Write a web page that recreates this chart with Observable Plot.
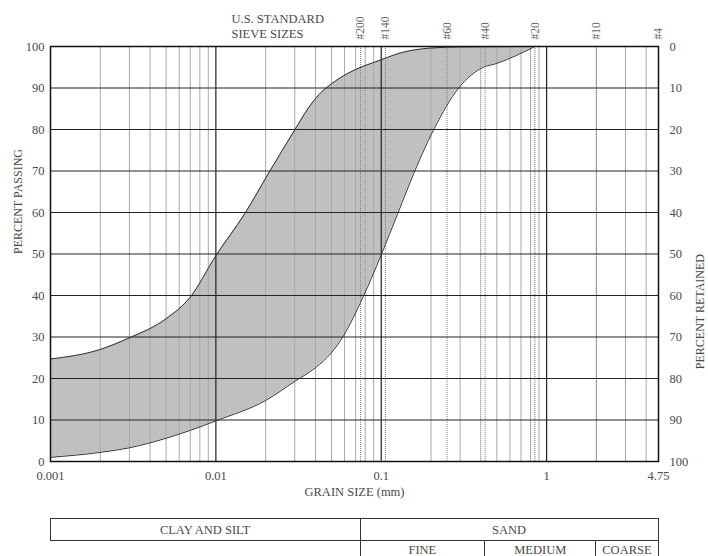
<!DOCTYPE html>
<html><head><meta charset="utf-8">
<script src="https://cdn.jsdelivr.net/npm/d3@7"></script>
<script src="https://cdn.jsdelivr.net/npm/@observablehq/plot@0.6"></script>
<style>
body{margin:0;background:#fff;}
</style></head><body><div id="chart"></div>
<script>
// ---- data ----
const sieveLabels = ["#200", "#140", "#60", "#40", "#20", "#10", "#4"];
const sieveSizes = [0.075, 0.106, 0.25, 0.425, 0.85, 2.0, 4.75];
const xTicks = [0.001, 0.01, 0.1, 1, 4.75];
const xTickLabels = ["0.001", "0.01", "0.1", "1", "4.75"];
const majorLines = [0.01, 0.1, 1];
const yTicks = [0, 10, 20, 30, 40, 50, 60, 70, 80, 90, 100];
const yGrid = [10, 20, 30, 40, 50, 60, 70, 80, 90];

const upperSize = [0.001, 0.002, 0.003, 0.005, 0.007, 0.01, 0.015, 0.021, 0.03, 0.036, 0.042, 0.05, 0.062, 0.1, 0.135, 0.195, 0.3, 0.85];
const upperPassing = [24.7, 27, 29.8, 34.4, 39.6, 49.6, 59.8, 69.7, 79.9, 85, 88.4, 91, 93.4, 96.8, 98.6, 99.6, 99.9, 100];

const lowerSize = [0.001, 0.002, 0.003, 0.005, 0.007, 0.01, 0.02, 0.03, 0.04, 0.05, 0.059, 0.068, 0.078, 0.1, 0.126, 0.151, 0.209, 0.294, 0.415, 0.488, 0.85];
const lowerPassing = [1, 2.2, 3.3, 5.6, 7.5, 9.8, 14.7, 19.3, 22.6, 26.2, 30.2, 34.8, 39.8, 49.8, 59.8, 67.7, 80.2, 90, 95, 95.8, 100];

const soilLabels = ["CLAY AND SILT", "SAND"];
const soilBounds = [0.001, 0.075, 4.75];
const sandLabels = ["FINE", "MEDIUM", "COARSE"];
const sandBounds = [0.075, 0.425, 2.0, 4.75];

// ---- build ----
const upper = upperSize.map((s, i) => ({size: s, pass: upperPassing[i]}));
const lower = lowerSize.map((s, i) => ({size: s, pass: lowerPassing[i]}));
const isPow10 = d => Math.abs(Math.log10(d) - Math.round(Math.log10(d))) < 1e-9;
const minorLines = d3.scaleLog().domain([0.001, 4.75]).ticks().filter(d => !isPow10(d));

const font = "'Liberation Serif', 'Times New Roman', serif";
const textColor = "#4a4a4a";

const plot = Plot.plot({
  width: 708, height: 556,
  marginLeft: 50, marginRight: 50, marginTop: 46, marginBottom: 95,
  style: {fontFamily: font, fontSize: "12.5px", color: textColor, background: "#fff"},
  x: {type: "log", domain: [0.001, 4.75], axis: null},
  y: {domain: [0, 100], axis: null},
  marks: [
    Plot.areaY(upper, {x: "size", y: "pass", fill: "#c0c0c0", curve: "monotone-x"}),
    Plot.areaY(lower, {x: "size", y: "pass", fill: "#ffffff", curve: "monotone-x"}),
    Plot.ruleX(minorLines, {stroke: "#a9a9a9", strokeWidth: 1}),
    Plot.ruleX(sieveSizes, {stroke: "#808080", strokeDasharray: "1,1"}),
    Plot.ruleX(majorLines, {stroke: "#222", strokeWidth: 1.2}),
    Plot.ruleY(yGrid, {stroke: "#222", strokeWidth: 1.2}),
    Plot.line(upper, {x: "size", y: "pass", stroke: "#333", strokeWidth: 1, curve: "monotone-x"}),
    Plot.line(lower, {x: "size", y: "pass", stroke: "#333", strokeWidth: 1, curve: "monotone-x"}),
    Plot.frame({stroke: "#111", strokeWidth: 1.5}),
    Plot.text(yTicks, {y: d => d, text: d => String(d), frameAnchor: "left", dx: -6, textAnchor: "end", fontSize: 12.5}),
    Plot.text(yTicks, {y: d => d, text: d => String(100 - d), frameAnchor: "right", dx: 11, textAnchor: "start", fontSize: 12.5}),
    Plot.text(xTicks, {x: d => d, text: (d, i) => xTickLabels[i], frameAnchor: "bottom", dy: 14, lineAnchor: "middle", fontSize: 12.5}),
    Plot.text(sieveSizes, {x: d => d, text: (d, i) => sieveLabels[i], frameAnchor: "top", dy: -7, rotate: -90, textAnchor: "start", lineAnchor: "middle", fontSize: 11.5, fill: "#666"}),
    Plot.text(["U.S. STANDARD\nSIEVE SIZES"], {frameAnchor: "top-left", dx: 181, dy: -34, textAnchor: "start", lineAnchor: "top", lineHeight: 1.2, fontSize: 12.5}),
    Plot.text(["PERCENT PASSING"], {frameAnchor: "left", dx: -32, rotate: -90, fontSize: 12}),
    Plot.text(["PERCENT RETAINED"], {frameAnchor: "right", dx: 42, rotate: -90, fontSize: 12}),
    Plot.text(["GRAIN SIZE (mm)"], {frameAnchor: "bottom", dy: 34, fontSize: 12.5})
  ]
});

// soil classification table below the chart, positioned with the plot's x scale
const sx = plot.scale("x");
const svg = d3.select(plot);
const tbl = svg.append("g").attr("font-family", font).attr("font-size", 12.5);
const rows = [
  {labels: soilLabels, bounds: soilBounds, y0: 518, y1: 540, base: 533.5},
  {labels: sandLabels, bounds: sandBounds, y0: 540, y1: 559, base: 553.5}
];
rows.forEach(r => {
  r.labels.forEach((lab, i) => {
    const x0 = sx.apply(r.bounds[i]), x1 = sx.apply(r.bounds[i + 1]);
    tbl.append("rect").attr("x", x0).attr("y", r.y0).attr("width", x1 - x0).attr("height", r.y1 - r.y0)
      .attr("fill", "none").attr("stroke", "#333").attr("stroke-width", 1).attr("shape-rendering", "crispEdges");
    tbl.append("text").attr("x", (x0 + x1) / 2).attr("y", r.base).attr("text-anchor", "middle")
      .attr("fill", textColor).text(lab);
  });
});

document.getElementById("chart").appendChild(plot);
</script>
</body></html>
